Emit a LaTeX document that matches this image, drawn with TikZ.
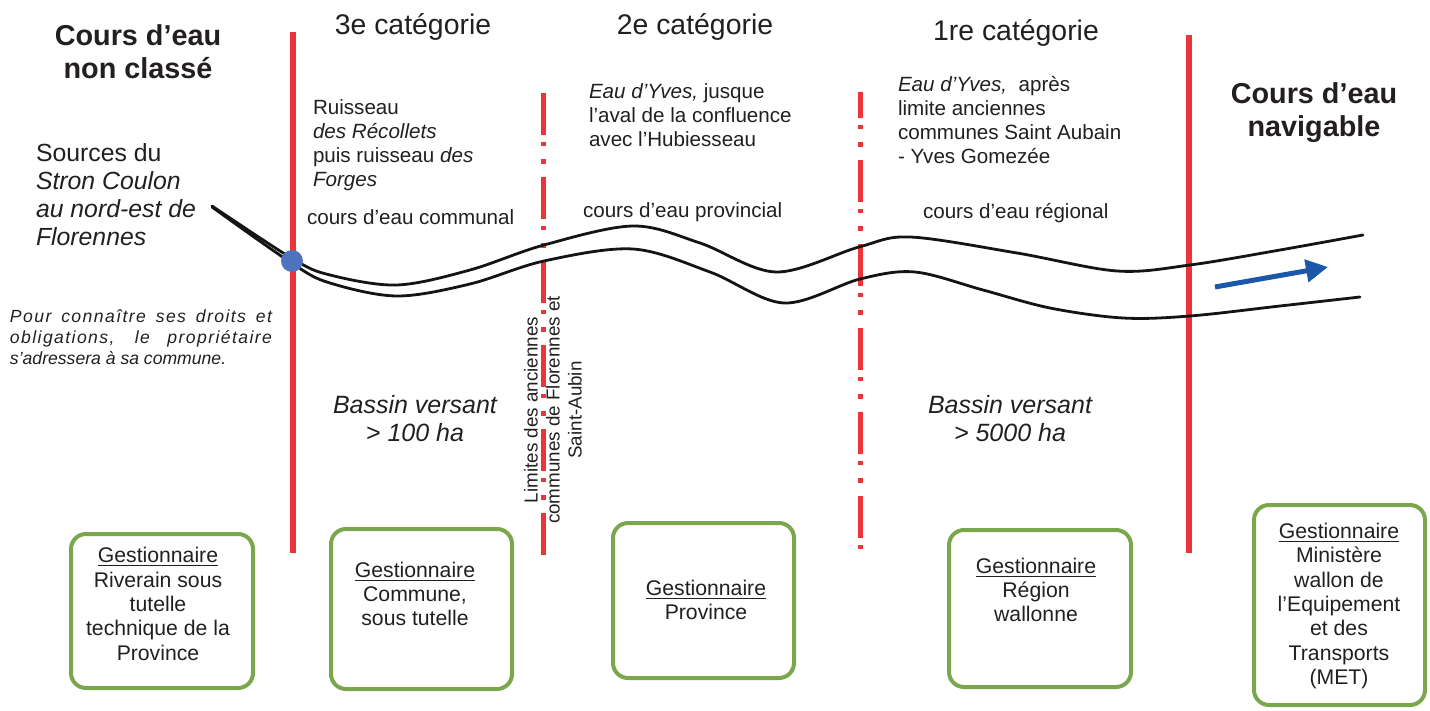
\documentclass[tikz,border=0pt]{standalone}
\usepackage{fontspec}
\setmainfont{Liberation Sans}
\usetikzlibrary{arrows.meta}
\definecolor{rl}{RGB}{236,52,58}
\definecolor{gb}{RGB}{122,166,76}
\definecolor{dotb}{RGB}{78,114,190}
\definecolor{arb}{RGB}{28,88,170}
\definecolor{tx}{RGB}{35,31,32}
\newcommand\fsz[2]{\fontsize{#1}{#2}\selectfont}
\newcommand\spreadline[1]{\makebox[131pt][s]{\addfontfeature{LetterSpace=8}#1}}
\begin{document}
\begin{tikzpicture}[x=0.5pt,y=-0.5pt,
  every node/.style={inner sep=0pt, outer sep=0pt, text=tx},
  redline/.style={rl, line width=3pt},
  ddline/.style={rl, line width=2.5pt, dash pattern=on 21pt off 3.5pt on 2.2pt off 6.5pt on 2.2pt off 6.6pt},
  bank/.style={black!92, line width=1.4pt, line cap=round},
  gbox/.style={draw=gb, line width=2pt, rounded corners=7.5pt},
  boxtext/.style={align=center, font=\fsz{10.6}{12.2}},
  bigtitle/.style={align=center, font=\fsz{14.4}{16.5}\bfseries},
  cattitle/.style={font=\fsz{14.2}{17}},
  descr/.style={align=left, anchor=west, font=\fsz{10.3}{12}},
  bassin/.style={align=center, font=\fsz{12.5}{14}\itshape},
  flow/.style={arb, line width=2.5pt, -{Triangle[length=11pt,width=11pt]}}
]
\useasboundingbox (0,0) rectangle (1430,711);

% red limits
\coordinate (r1t) at (293,32);  \coordinate (r1b) at (293,553);
\coordinate (r2t) at (543,93);  \coordinate (r2b) at (543,556);
\coordinate (r3t) at (860,92);  \coordinate (r3b) at (860,554);
\coordinate (r4t) at (1189,35); \coordinate (r4b) at (1189,553);
\draw[redline] (r1t) -- (r1b);
\draw[ddline] (r2t) -- (r2b);
\draw[ddline, dash phase=8pt] (r3t) -- (r3b);
\draw[redline] (r4t) -- (r4b);

% river banks
\draw[bank] plot[smooth, tension=0.55] coordinates {(212,206) (293,259) (330,275) (397,285) (470,270) (544,245) (633,226) (700,243) (776,272) (859,247) (910,237) (1017,253) (1117,271) (1190,265) (1280,250) (1363,235)};
\draw[bank] plot[smooth, tension=0.55] coordinates {(212,207) (293,264) (330,283) (397,296) (470,284) (544,261) (633,249) (710,272) (784,303) (860,279) (915,272) (983,290) (1050,308) (1123,318) (1190,316) (1280,306) (1360,297)};

% source dot
\node[circle, fill=dotb, minimum size=11pt] (src) at (292,261) {};

% flow arrow
\coordinate (fa) at (1215,287);
\coordinate (fb) at (1328,267);
\draw[flow] (fa) -- (fb);

% titles
\node[bigtitle] (nc) at (138,52) {Cours d’eau\\non classé};
\node[bigtitle] (nav) at (1314,113) {Cours d’eau\\navigable};
\node[cattitle] (c3) at (413,27) {3e catégorie};
\node[cattitle] (c2) at (695,27) {2e catégorie};
\node[cattitle] (c1) at (1016,33) {1re catégorie};

% descriptions
\node[descr, font=\fsz{12.4}{14}] (src-t) at (36,195) {Sources du\\\textit{Stron Coulon}\\\textit{au nord-est de}\\\textit{Florennes}};
\node[descr] (d3) at (313,145) {Ruisseau\\\textit{des Récollets}\\puis ruisseau \textit{des}\\\textit{Forges}};
\node[descr] (k3) at (307,217) {cours d’eau communal};
\node[descr] (d2) at (589,115) {\textit{Eau d’Yves,} jusque\\l’aval de la confluence\\avec l’Hubiesseau};
\node[descr] (k2) at (583,212) {cours d’eau provincial};
\node[descr] (d1) at (898,120) {\textit{Eau d’Yves,}~ après\\limite anciennes\\communes Saint Aubain\\- Yves Gomezée};
\node[descr] (k1) at (923,213) {cours d’eau régional};

\node[anchor=west, align=left, font=\fsz{8.8}{10.6}\itshape] (pour) at (10,337)
  {\spreadline{Pour connaître ses droits et}\\\spreadline{obligations, le propriétaire}\\s’adressera à sa commune.};

\node[bassin] (b100) at (415,419) {Bassin versant\\> 100 ha};
\node[bassin] (b5000) at (1010,419) {Bassin versant\\> 5000 ha};

\node[rotate=90, align=center, font=\fsz{9.4}{11}] (lim) at (553,410)
  {Limites des anciennes\\communes de Florennes et\\Saint-Aubin};

% boxes
\node[gbox, minimum width=91pt, minimum height=77pt] (g1) at (162,611) {};
\node[boxtext] (g1t) at (158,604) {\underline{Gestionnaire}\\Riverain sous\\tutelle\\technique de la\\Province};
\node[gbox, minimum width=90.5pt, minimum height=80pt] (g2) at (421.5,609) {};
\node[boxtext] (g2t) at (415,594) {\underline{Gestionnaire}\\Commune,\\sous tutelle};
\node[gbox, minimum width=90.5pt, minimum height=77.5pt] (g3) at (703.5,600.5) {};
\node[boxtext] (g3t) at (706,600) {\underline{Gestionnaire}\\Province};
\node[gbox, minimum width=91pt, minimum height=78.5pt] (g4) at (1040,608.5) {};
\node[boxtext] (g4t) at (1036,590) {\underline{Gestionnaire}\\Région\\wallonne};
\node[gbox, minimum width=85.5pt, minimum height=100pt] (g5) at (1339.5,605) {};
\node[boxtext] (g5t) at (1339,606) {\underline{Gestionnaire}\\Ministère\\wallon de\\l’Equipement\\et des\\Transports\\(MET)};
\end{tikzpicture}
\end{document}
